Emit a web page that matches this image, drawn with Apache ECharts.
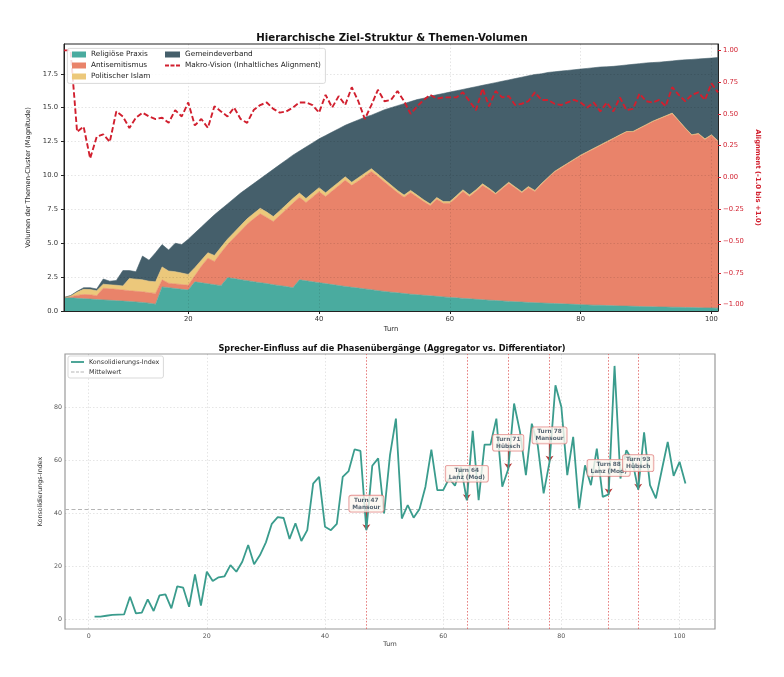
<!DOCTYPE html>
<html>
<head>
<meta charset="utf-8">
<script src="https://cdn.jsdelivr.net/npm/echarts@6/dist/echarts.min.js"></script>
<style>html,body{margin:0;padding:0;background:#fff}#c{width:784px;height:677px}</style>
</head>
<body>
<div id="c"></div>
<script>
// ---------- DATA ----------
const turns = [1,2,3,4,5,6,7,8,9,10,11,12,13,14,15,16,17,18,19,20,21,22,23,24,25,26,27,28,29,30,31,32,33,34,35,36,37,38,39,40,41,42,43,44,45,46,47,48,49,50,51,52,53,54,55,56,57,58,59,60,61,62,63,64,65,66,67,68,69,70,71,72,73,74,75,76,77,78,79,80,81,82,83,84,85,86,87,88,89,90,91,92,93,94,95,96,97,98,99,100,101];

const religiosePraxis = [1.0,0.97,0.94,0.91,0.88,0.85,0.82,0.79,0.76,0.73,
 0.7,0.67,0.63,0.58,0.5,1.78,1.72,1.66,1.6,1.55,
 2.15,2.08,2.01,1.94,1.87,2.46,2.39,2.31,2.24,2.16,
 2.09,2.02,1.94,1.87,1.8,1.72,2.3,2.23,2.16,2.09,
 2.02,1.95,1.88,1.81,1.75,1.69,1.63,1.57,1.5,1.44,
 1.39,1.34,1.29,1.24,1.2,1.16,1.12,1.08,1.04,1.0,
 0.97,0.93,0.9,0.86,0.83,0.8,0.77,0.74,0.71,0.68,
 0.66,0.63,0.61,0.59,0.57,0.55,0.53,0.51,0.49,0.47,
 0.45,0.43,0.42,0.4,0.39,0.37,0.36,0.35,0.33,0.32,
 0.31,0.3,0.29,0.28,0.27,0.26,0.25,0.24,0.23,0.22,
 0.21];

const antisemitismus = [0,0.08,0.21,0.31,0.32,0.28,0.86,0.85,0.84,0.82,
 0.8,0.78,0.79,0.77,0.8,0.52,0.33,0.34,0.35,0.35,
 0.45,1.22,1.89,1.71,2.43,2.44,3.01,3.59,4.16,4.64,
 5.08,4.88,4.66,5.18,5.7,6.23,6.1,5.77,6.24,6.71,
 6.43,6.9,7.37,7.84,7.52,7.91,8.32,8.73,8.42,8.08,
 7.74,7.4,7.11,7.51,7.21,6.91,6.66,7.17,6.91,6.95,
 7.41,7.89,7.55,7.97,8.43,8.17,7.84,8.28,8.71,8.39,
 8.06,8.47,8.21,8.74,9.24,9.71,10.03,10.35,10.67,10.99,
 11.26,11.53,11.79,12.06,12.32,12.59,12.84,12.86,13.13,13.39,
 13.65,13.86,14.07,14.28,13.74,13.2,12.71,12.82,12.43,12.74,
 12.3];

const politischerIslam = [0,0.07,0.25,0.38,0.38,0.37,0.3,0.29,0.3,0.3,
 0.9,0.9,0.88,0.85,0.85,0.95,0.9,0.9,0.85,0.8,
 0.6,0.45,0.4,0.45,0.4,0.4,0.4,0.4,0.4,0.4,
 0.41,0.4,0.37,0.35,0.35,0.35,0.3,0.3,0.3,0.3,
 0.27,0.27,0.25,0.25,0.23,0.23,0.22,0.2,0.18,0.18,
 0.17,0.16,0.15,0.15,0.14,0.13,0.12,0.12,0.12,0.12,
 0.12,0.12,0.12,0.12,0.12,0.08,0.08,0.08,0.08,0.08,
 0.08,0.08,0.08,0.07,0.04,0.04,0.04,0.04,0.04,0.04,
 0.04,0.04,0.04,0.04,0.04,0.04,0.04,0.04,0.04,0.04,
 0.04,0.04,0.04,0.04,0.04,0.04,0.04,0.04,0.04,0.04,
 0.04];

const gemeindeverband = [0,0.02,0.05,0.12,0.14,0.12,0.38,0.27,0.35,1.13,
 0.58,0.55,1.75,1.55,2.15,1.65,1.55,2.1,2.1,2.6,
 2.55,2.45,2.35,3.0,2.8,2.6,2.5,2.4,2.25,2.2,
 2.17,2.8,3.48,3.4,3.3,3.2,3.1,3.8,3.7,3.6,
 4.23,4.08,3.95,3.8,4.4,4.27,4.13,3.95,4.55,5.15,
 5.7,6.25,6.75,6.55,7.05,7.5,7.95,7.58,7.98,8.08,
 7.75,7.41,7.88,7.6,7.27,7.7,8.16,7.85,7.55,8.0,
 8.45,8.17,8.55,8.1,7.75,7.35,7.1,6.85,6.6,6.35,
 6.15,5.95,5.75,5.52,5.3,5.1,4.91,4.95,4.75,4.55,
 4.33,4.16,4.0,3.85,4.45,5.03,5.56,5.5,5.93,5.66,
 6.15];

const alignment = [1.0,1.0,0.36,0.4,0.15,0.32,0.34,0.28,0.52,0.48,
 0.39,0.47,0.51,0.48,0.46,0.47,0.43,0.53,0.48,0.59,
 0.41,0.46,0.39,0.56,0.52,0.48,0.55,0.46,0.43,0.53,
 0.57,0.59,0.54,0.51,0.52,0.55,0.59,0.59,0.57,0.51,
 0.65,0.55,0.64,0.57,0.71,0.6,0.46,0.57,0.69,0.6,
 0.61,0.68,0.6,0.5,0.56,0.61,0.65,0.62,0.63,0.63,
 0.63,0.67,0.6,0.53,0.7,0.56,0.68,0.63,0.64,0.57,
 0.58,0.6,0.67,0.61,0.61,0.58,0.57,0.59,0.61,0.59,
 0.55,0.59,0.52,0.59,0.52,0.63,0.53,0.54,0.66,0.6,
 0.59,0.61,0.56,0.71,0.65,0.6,0.65,0.67,0.61,0.74,
 0.67];

const konsolidierung = [0.9,0.9,1.2,1.5,1.6,1.7,8.4,2.1,2.4,7.4,
 3.0,8.9,9.3,4.0,12.3,11.8,4.6,16.8,5.0,17.8,
 14.3,15.7,16.1,20.3,17.8,21.6,27.9,20.6,24.1,28.9,
 35.9,38.4,38.1,30.2,36.1,29.4,33.5,51.1,53.6,34.8,
 33.5,35.9,53.6,55.8,64.0,63.4,33.5,57.8,60.6,39.8,
 61.8,75.6,37.9,43.0,38.2,41.5,49.9,63.9,48.6,48.6,
 53.0,50.3,57.4,44.8,71.0,44.8,65.8,65.8,75.6,49.9,
 56.5,81.3,70.6,54.3,73.7,65.6,47.4,59.3,88.2,80.0,
 54.3,68.7,41.7,58.0,50.5,64.3,46.1,47.0,95.5,53.0,
 63.7,59.9,48.8,70.4,50.5,45.5,56.2,66.8,54.0,59.3,
 51.1];

const meanValue = 41.3;
const phaseTurns = [47, 64, 71, 78, 88, 93];
const phaseSpeakers = ['Mansour', 'Lanz (Mod)', 'Hübsch', 'Mansour', 'Lanz (Mod)', 'Hübsch'];

const xTickStepTop = 20;
const yTicksLeft = [0, 2.5, 5, 7.5, 10, 12.5, 15, 17.5];
const yTicksRight = [-1, -0.75, -0.5, -0.25, 0, 0.25, 0.5, 0.75, 1];
const xTicksBottom = [0, 20, 40, 60, 80, 100];
const yTicksBottom = [0, 20, 40, 60, 80];

// ---------- STYLE / LAYOUT ----------
const FONT = 'DejaVu Sans';
const RED = '#d11f2e';
const annotOffset = 10;
const COLORS = {
  'Religiöse Praxis': '#4aab9f',
  'Antisemitismus': '#e9836a',
  'Politischer Islam': '#ecc87b',
  'Gemeindeverband': '#455f6b'
};
const gridLine = {show: true, lineStyle: {color: 'rgba(0,0,0,0.13)', type: [1.5, 2], width: 0.8}};
const minus = s => s.replace('-', '\u2212');
const topTickFilter = (idx, val) => Number(val) % xTickStepTop === 0;

// legend icons (shape only)
const ICON_DASH_TOP = 'path://M0,0M30,12M0,4.2h8v3.6h-8zM11,4.2h8v3.6h-8zM22,4.2h8v3.6h-8z';
const ICON_SOLID_BOTTOM = 'path://M0,0M26,12M0,4.2h26v3.6h-26z';
const ICON_DASH_BOTTOM = 'path://M0,0M26,12M0,5h7v2h-7zM10,5h6v2h-6zM19,5h7v2h-7z';

const chart = echarts.init(document.getElementById('c'), null, {renderer: 'canvas'});

const areaData = [
  ['Religiöse Praxis', religiosePraxis],
  ['Antisemitismus', antisemitismus],
  ['Politischer Islam', politischerIslam],
  ['Gemeindeverband', gemeindeverband]
];
const areaSeries = areaData.map(([name, arr]) => ({
  name, type: 'line', xAxisIndex: 0, yAxisIndex: 0, stack: 'vol',
  symbol: 'none', smooth: false, z: 2,
  data: arr,
  itemStyle: {color: COLORS[name]},
  lineStyle: {width: 0.6, color: COLORS[name]},
  areaStyle: {color: COLORS[name], opacity: 1}
}));

const valAt = t => konsolidierung[turns.indexOf(t)];

const option = {
  animation: false,
  backgroundColor: '#ffffff',
  textStyle: {fontFamily: FONT},
  title: [
    {text: 'Hierarchische Ziel-Struktur & Themen-Volumen', left: 'center', top: 28,
     textStyle: {fontFamily: FONT, fontSize: 10.2, fontWeight: 'bold', color: '#111'}},
    {text: 'Sprecher-Einfluss auf die Phasenübergänge (Aggregator vs. Differentiator)', left: 'center', top: 340,
     textStyle: {fontFamily: FONT, fontSize: 8.2, fontWeight: 'bold', color: '#111'}}
  ],
  grid: [
    {left: 64, top: 44, width: 654, height: 267, show: true, borderColor: '#222', borderWidth: 1, backgroundColor: 'rgba(0,0,0,0)'},
    {left: 65, top: 354, width: 650, height: 275, show: true, borderColor: '#9a9a9a', borderWidth: 1.2, backgroundColor: 'rgba(0,0,0,0)'}
  ],
  graphic: [
    {type: 'rect', left: 67, top: 48, z: 8, shape: {width: 258, height: 35, r: 2},
     style: {fill: 'rgba(255,255,255,0.85)', stroke: '#cfcfcf', lineWidth: 0.8}}
  ],
  legend: [
    {left: 72, top: 50, orient: 'vertical', padding: 0, itemGap: 2, itemWidth: 14, itemHeight: 6, selectedMode: false, z: 10,
     data: [{name: 'Religiöse Praxis', icon: 'rect'}, {name: 'Antisemitismus', icon: 'rect'}, {name: 'Politischer Islam', icon: 'rect'}],
     textStyle: {fontFamily: FONT, fontSize: 7.3, color: '#222', lineHeight: 9}},
    {left: 165, top: 50, orient: 'vertical', padding: 0, itemGap: 2, itemWidth: 15, itemHeight: 6, selectedMode: false, z: 10,
     data: [{name: 'Gemeindeverband', icon: 'rect'}, {name: 'Makro-Vision (Inhaltliches Alignment)', icon: ICON_DASH_TOP}],
     textStyle: {fontFamily: FONT, fontSize: 7.3, color: '#222', lineHeight: 9}},
    {left: 68, top: 356, orient: 'vertical', padding: [2, 4, 2, 3], itemGap: 2, itemWidth: 13, itemHeight: 6, selectedMode: false, z: 10,
     backgroundColor: 'rgba(255,255,255,0.85)', borderColor: '#cfcfcf', borderWidth: 0.8, borderRadius: 2,
     data: [{name: 'Konsolidierungs-Index', icon: ICON_SOLID_BOTTOM}, {name: 'Mittelwert', icon: ICON_DASH_BOTTOM}],
     textStyle: {fontFamily: FONT, fontSize: 6.4, color: '#333', lineHeight: 8}}
  ],
  xAxis: [
    {gridIndex: 0, type: 'category', data: turns, boundaryGap: false, z: 3,
     name: 'Turn', nameLocation: 'middle', nameGap: 15,
     nameTextStyle: {fontFamily: FONT, fontSize: 6.8, color: '#222'},
     axisLine: {show: true, lineStyle: {color: '#222', width: 1}},
     axisTick: {show: true, length: 3, alignWithLabel: true, interval: topTickFilter, lineStyle: {color: '#222'}},
     axisLabel: {interval: topTickFilter, margin: 5, fontFamily: FONT, fontSize: 6.8, color: '#333'},
     splitLine: Object.assign({interval: topTickFilter}, gridLine)},
    {gridIndex: 1, type: 'value', min: -4, max: 106, z: 3,
     name: 'Turn', nameLocation: 'middle', nameGap: 12,
     nameTextStyle: {fontFamily: FONT, fontSize: 6.3, color: '#333'},
     axisLine: {show: false},
     axisTick: {show: false, customValues: xTicksBottom},
     axisLabel: {customValues: xTicksBottom, margin: 4, fontFamily: FONT, fontSize: 6.3, color: '#555'},
     splitLine: gridLine}
  ],
  yAxis: [
    {gridIndex: 0, type: 'value', min: 0, max: 19.7, position: 'left', z: 3,
     name: 'Volumen der Themen-Cluster (Magnitude)', nameLocation: 'middle', nameRotate: 90, nameGap: 24,
     nameTextStyle: {fontFamily: FONT, fontSize: 6.7, color: '#222'},
     axisLine: {show: true, lineStyle: {color: '#222', width: 1}},
     axisTick: {show: true, length: 3, customValues: yTicksLeft, lineStyle: {color: '#222'}},
     axisLabel: {customValues: yTicksLeft, margin: 6, fontFamily: FONT, fontSize: 6.8, color: '#333',
                 formatter: v => v.toFixed(1)},
     splitLine: gridLine},
    {gridIndex: 0, type: 'value', min: -1.05, max: 1.05, position: 'right', z: 3,
     name: 'Alignment (-1.0 bis +1.0)', nameLocation: 'middle', nameRotate: -90, nameGap: 32,
     nameTextStyle: {fontFamily: FONT, fontSize: 6.8, fontWeight: 'bold', color: RED},
     axisLine: {show: true, lineStyle: {color: '#222', width: 1}},
     axisTick: {show: true, length: 3, customValues: yTicksRight, lineStyle: {color: RED}},
     axisLabel: {customValues: yTicksRight, margin: 5, fontFamily: FONT, fontSize: 6.8, color: RED,
                 formatter: v => minus(v.toFixed(2))},
     splitLine: {show: false}},
    {gridIndex: 1, type: 'value', min: -3.8, max: 100, z: 3,
     name: 'Konsolidierungs-Index', nameLocation: 'middle', nameRotate: 90, nameGap: 15,
     nameTextStyle: {fontFamily: FONT, fontSize: 6.3, color: '#333'},
     axisLine: {show: false},
     axisTick: {show: false, customValues: yTicksBottom},
     axisLabel: {customValues: yTicksBottom, margin: 3, fontFamily: FONT, fontSize: 6.3, color: '#555'},
     splitLine: gridLine}
  ],
  series: [
    ...areaSeries,
    {name: 'Makro-Vision (Inhaltliches Alignment)', type: 'line', xAxisIndex: 0, yAxisIndex: 1,
     symbol: 'none', z: 4, data: alignment,
     itemStyle: {color: RED}, lineStyle: {color: RED, width: 1.9, type: [5.5, 2.6]}},
    {name: 'Mittelwert', type: 'line', xAxisIndex: 1, yAxisIndex: 2, symbol: 'none', z: 3, data: [],
     itemStyle: {color: '#b5b5b5'}, lineStyle: {color: '#b5b5b5', width: 1, type: [4, 2.5]},
     markLine: {silent: true, symbol: ['none', 'none'], label: {show: false},
                lineStyle: {color: '#b5b5b5', width: 1, type: [4, 2.5]},
                data: [{yAxis: meanValue}]}},
    {name: 'phasen', type: 'line', xAxisIndex: 1, yAxisIndex: 2, symbol: 'none', z: 3, data: [],
     markLine: {silent: true, symbol: ['none', 'none'], label: {show: false},
                lineStyle: {color: '#e06262', width: 1, type: [1.5, 1.8], opacity: 0.85},
                data: phaseTurns.map(t => ({xAxis: t}))}},
    {name: 'Konsolidierungs-Index', type: 'line', xAxisIndex: 1, yAxisIndex: 2, symbol: 'none', z: 5,
     data: turns.map((t, i) => [t, konsolidierung[i]]),
     itemStyle: {color: '#3a9c8d'}, lineStyle: {color: '#3a9c8d', width: 1.8}},
    {name: 'pfeile', type: 'line', xAxisIndex: 1, yAxisIndex: 2, symbol: 'none', z: 6, data: [],
     markLine: {silent: true, symbol: ['none', 'arrow'], symbolSize: 6, label: {show: false},
                lineStyle: {color: '#b53a3a', width: 1.3, type: 'solid'},
                data: phaseTurns.map(t => [{coord: [t, valAt(t) + annotOffset]}, {coord: [t, valAt(t)]}])}},
    {name: 'annot', type: 'scatter', xAxisIndex: 1, yAxisIndex: 2, symbolSize: 1, z: 10,
     itemStyle: {color: 'rgba(0,0,0,0)'},
     data: phaseTurns.map((t, k) => ({value: [t, valAt(t) + annotOffset], name: 'Turn ' + t + '\n' + phaseSpeakers[k]})),
     label: {show: true, position: 'inside', formatter: p => p.name, align: 'center',
             fontFamily: FONT, fontSize: 5.8, fontWeight: 'bold', color: '#2c3e50', lineHeight: 6.8,
             backgroundColor: '#fdf7f0', borderColor: '#e07a7a', borderWidth: 0.8, borderRadius: 2,
             padding: [1.5, 3, 1, 3]}}
  ]
};
chart.setOption(option);
</script>
</body>
</html>
